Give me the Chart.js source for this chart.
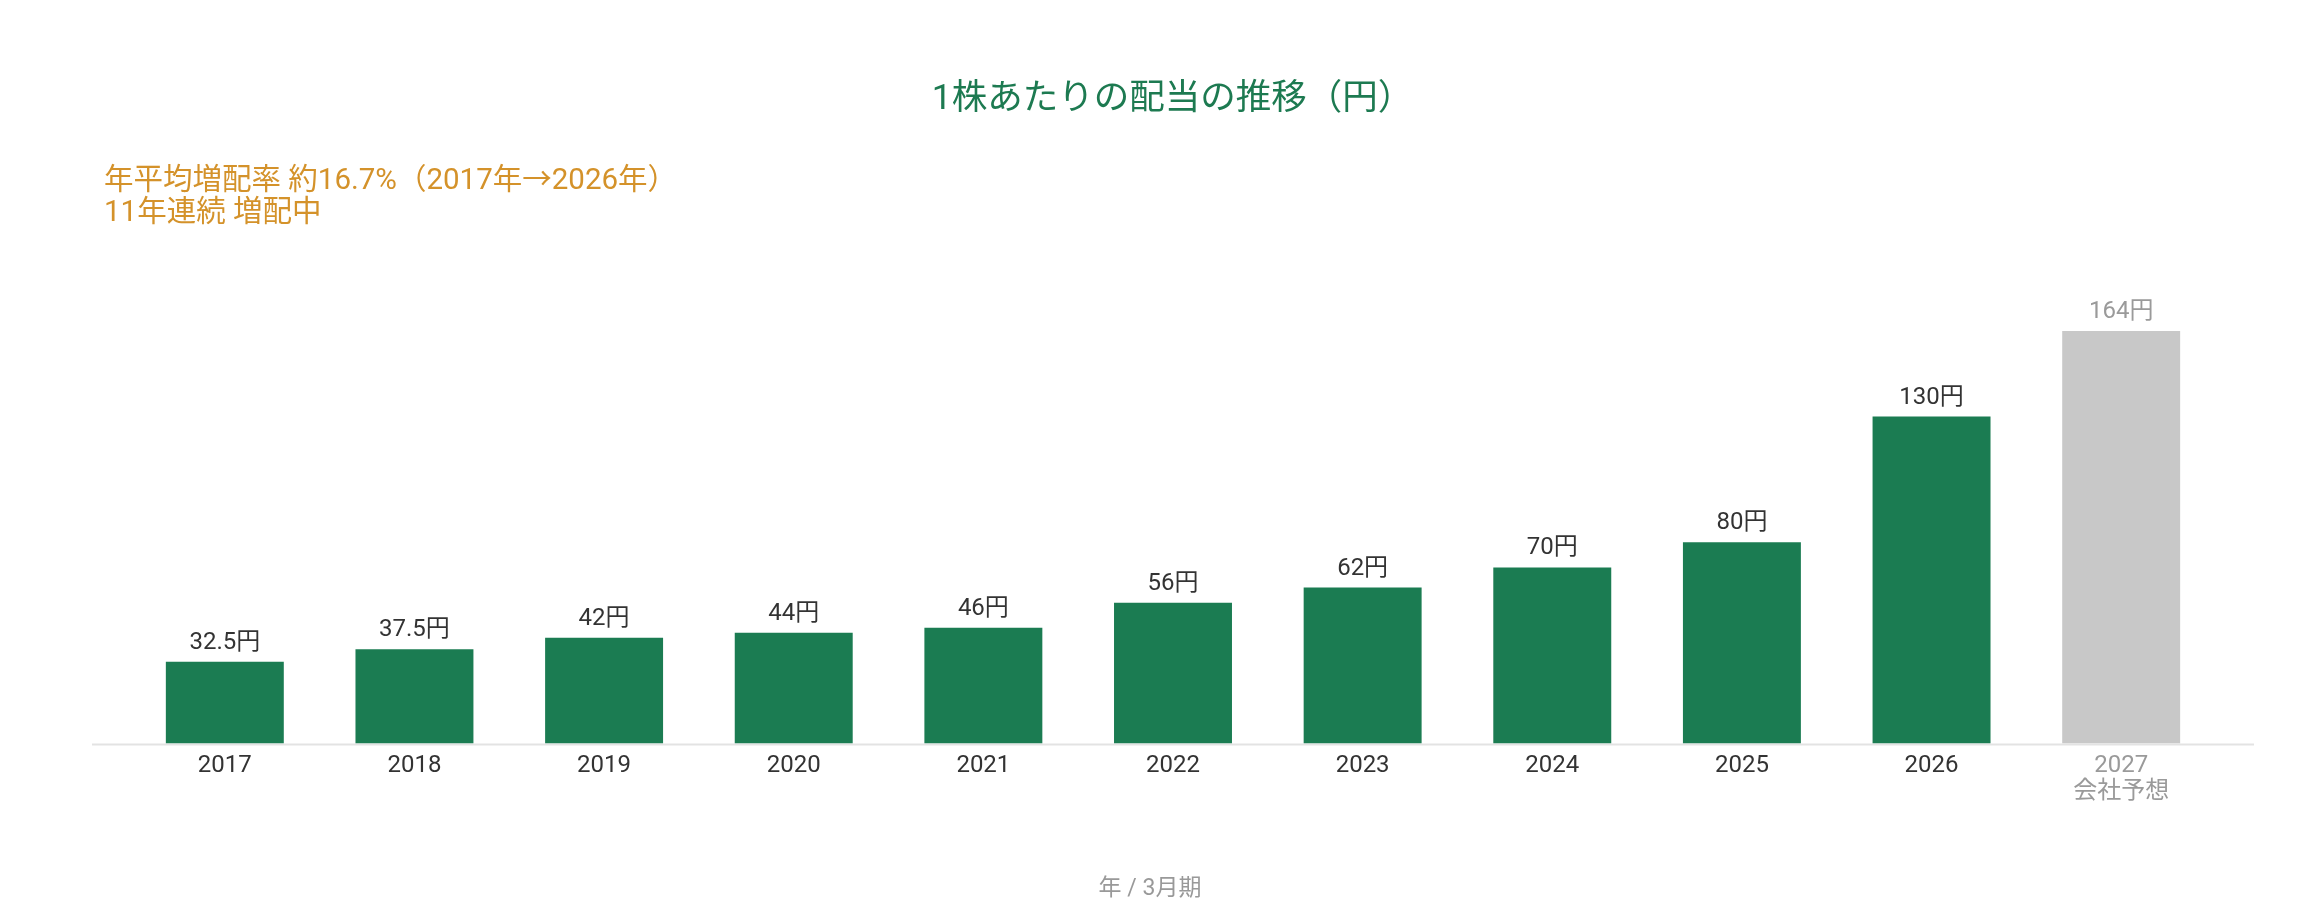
<!DOCTYPE html>
<html lang="ja">
<head>
<meta charset="utf-8">
<title>1株あたりの配当の推移（円）</title>
<script src="https://cdn.jsdelivr.net/npm/chart.js@4"></script>
<style>
  html, body { margin: 0; padding: 0; background: #fff; }
  #wrap { width: 2300px; height: 919px; }
</style>
</head>
<body>
<div id="wrap"><canvas id="dividendChart" width="2300" height="919"></canvas></div>
<script>
// データ
const years = ["2017", "2018", "2019", "2020", "2021", "2022", "2023", "2024", "2025", "2026", "2027"];
const dividends = [32.5, 37.5, 42, 44, 46, 56, 62, 70, 80, 130, 164];
const forecastIndex = 10;
const forecastNote = "会社予想";
const chartTitle = "1株あたりの配当の推移（円）";
const subtitleLines = ["年平均増配率 約16.7%（2017年→2026年）", "11年連続 増配中"];
const xAxisTitle = "年 / 3月期";

const FONT = "Roboto, 'Noto Sans CJK JP', sans-serif";
const GREEN = "#1b7c52";
const GRAY_BAR = "#c8c8c8";

// 棒の上に値ラベル
const valueLabels = {
  id: "valueLabels",
  afterDatasetsDraw(chart) {
    const ctx = chart.ctx;
    const meta = chart.getDatasetMeta(0);
    ctx.save();
    ctx.font = "24px " + FONT;
    ctx.textAlign = "center";
    ctx.textBaseline = "alphabetic";
    meta.data.forEach((bar, i) => {
      ctx.fillStyle = i === forecastIndex ? "#9a9a9a" : "#333333";
      ctx.fillText(dividends[i] + "円", bar.x, bar.y - 13);
    });
    ctx.restore();
  }
};

// 基準線（チャート領域より少し広く）
const baseLine = {
  id: "baseLine",
  beforeDatasetsDraw(chart) {
    const { ctx, chartArea, scales } = chart;
    const y = Math.round(scales.y.getPixelForValue(0)) + 0.5;
    ctx.save();
    ctx.strokeStyle = "#e3e3e3";
    ctx.lineWidth = 2;
    ctx.beginPath();
    ctx.moveTo(chartArea.left - 38, y);
    ctx.lineTo(chartArea.right + 38, y);
    ctx.stroke();
    ctx.restore();
  }
};

// 左上の補足テキストと下の軸タイトル（キャンバス中央）
const extraTexts = {
  id: "extraTexts",
  afterDraw(chart) {
    const ctx = chart.ctx;
    ctx.save();
    ctx.textBaseline = "alphabetic";
    ctx.textAlign = "left";
    ctx.fillStyle = "#d4922a";
    ctx.font = "29.5px " + FONT;
    subtitleLines.forEach((line, i) => {
      ctx.fillText(line, 104, 189 + i * 32);
    });
    ctx.textAlign = "center";
    ctx.fillStyle = "#999999";
    ctx.font = "23px " + FONT;
    ctx.fillText(xAxisTitle, chart.width / 2, 895);
    ctx.restore();
  }
};

const ctx = document.getElementById("dividendChart").getContext("2d");
new Chart(ctx, {
  type: "bar",
  data: {
    labels: years,
    datasets: [{
      data: dividends,
      backgroundColor: dividends.map((v, i) => i === forecastIndex ? GRAY_BAR : GREEN),
      borderWidth: 0,
      categoryPercentage: 1,
      barPercentage: 0.622
    }]
  },
  options: {
    responsive: false,
    devicePixelRatio: 1,
    animation: false,
    layout: { padding: { top: 0, left: 129, right: 84, bottom: 104.7 } },
    plugins: {
      legend: { display: false },
      tooltip: { enabled: false },
      title: {
        display: true,
        text: chartTitle,
        color: "#1d7a51",
        font: { family: FONT, size: 35.5, weight: "normal", lineHeight: 1.2 },
        padding: { top: 79, bottom: 169.2 }
      }
    },
    scales: {
      x: {
        grid: { display: false, drawTicks: false },
        border: { display: false },
        ticks: {
          padding: 9,
          font: { family: FONT, size: 24, lineHeight: 1.1 },
          color: c => c.index === forecastIndex ? "#9a9a9a" : "#333333",
          callback: (value, index) => index === forecastIndex ? [years[index], forecastNote] : years[index]
        }
      },
      y: {
        min: 0,
        max: 180,
        grid: { display: false, drawTicks: false },
        border: { display: false },
        ticks: { display: false },
        afterFit: scale => { scale.width = 1; }
      }
    }
  },
  plugins: [baseLine, valueLabels, extraTexts]
});
</script>
</body>
</html>
